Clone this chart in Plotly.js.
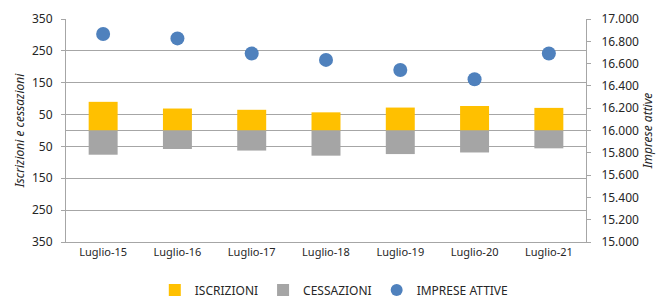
<!DOCTYPE html>
<html>
<head>
<meta charset="utf-8">
<script src="https://cdn.plot.ly/plotly-3.0.1.min.js"></script>
<style>html,body{margin:0;padding:0;background:#fff;}#chart{width:659px;height:298px;}</style>
</head>
<body>
<div id="chart"></div>
<script>
var categories = ["Luglio-15","Luglio-16","Luglio-17","Luglio-18","Luglio-19","Luglio-20","Luglio-21"];
var iscrizioni = [90, 69, 65, 57, 72, 77, 71];
var cessazioni = [76, 58, 63, 79, 74, 69, 56];
var impreseAttive = [16865, 16826, 16690, 16633, 16543, 16459, 16690];
var leftTickVals = [-350, -250, -150, -50, 50, 150, 250, 350];
var leftTickText = ["350", "250", "150", "50", "50", "150", "250", "350"];
var rightTickVals = [15000, 15200, 15400, 15600, 15800, 16000, 16200, 16400, 16600, 16800, 17000];

var font = "Noto Sans, sans-serif";
var gridCol = "#a6a6a6";

var traces = [
  {type: "bar", name: "ISCRIZIONI", x: categories, y: iscrizioni, marker: {color: "#FFC000"}, width: 0.39},
  {type: "bar", name: "CESSAZIONI", x: categories, y: cessazioni.map(function(v){return -v;}), marker: {color: "#A5A5A5"}, width: 0.39},
  {type: "scatter", mode: "markers", name: "IMPRESE ATTIVE", x: categories, y: impreseAttive, yaxis: "y2",
   marker: {color: "#4F81BD", size: 14}}
];

var layout = {
  width: 659, height: 298,
  margin: {l: 66, r: 73, t: 19, b: 56},
  paper_bgcolor: "#fff", plot_bgcolor: "#fff",
  barmode: "relative",
  separators: ",.",
  font: {family: font, size: 11, color: "#262626"},
  showlegend: true,
  legend: {orientation: "h", x: 0.515, xanchor: "center", yref: "container", y: 0.027, yanchor: "middle",
           bgcolor: "rgba(0,0,0,0)", font: {size: 12, color: "#262626"}, traceorder: "normal",
           itemwidth: 30, itemsizing: "constant"},
  xaxis: {type: "category", range: [-0.5, 6.5], showgrid: false, zeroline: false,
          showline: true, linecolor: gridCol, linewidth: 1, ticks: "", tickfont: {size: 11}},
  xaxis2: {overlaying: "x", anchor: "free", position: 0.5, type: "linear", range: [-0.5, 6.5],
           tickmode: "array", tickvals: [0.5, 1.5, 2.5, 3.5, 4.5, 5.5], ticks: "outside", ticklen: 4,
           tickcolor: gridCol, showticklabels: false, showgrid: false, zeroline: false, showline: false},
  yaxis: {range: [-350, 350], tickmode: "array", tickvals: leftTickVals, ticktext: leftTickText,
          showgrid: true, gridcolor: gridCol, gridwidth: 1, zeroline: true, zerolinecolor: gridCol, zerolinewidth: 1,
          showline: true, linecolor: gridCol, ticks: "outside", ticklen: 4, tickcolor: gridCol, ticklabelstandoff: 6,
          tickfont: {size: 12}, title: {text: "Iscrizioni e cessazioni", font: {size: 12, style: "italic"}, standoff: 4}},
  yaxis2: {overlaying: "y", side: "right", range: [15000, 17000], tickmode: "array", tickvals: rightTickVals,
           tickformat: ",d", showgrid: false, zeroline: false, showline: true, linecolor: gridCol,
           ticks: "outside", ticklen: 4, tickcolor: gridCol, ticklabelstandoff: 8, tickfont: {size: 12},
           title: {text: "Imprese attive", font: {size: 12, style: "italic"}, standoff: 2}}
};

Plotly.newPlot("chart", traces, layout, {displayModeBar: false, staticPlot: true});
</script>
</body>
</html>
